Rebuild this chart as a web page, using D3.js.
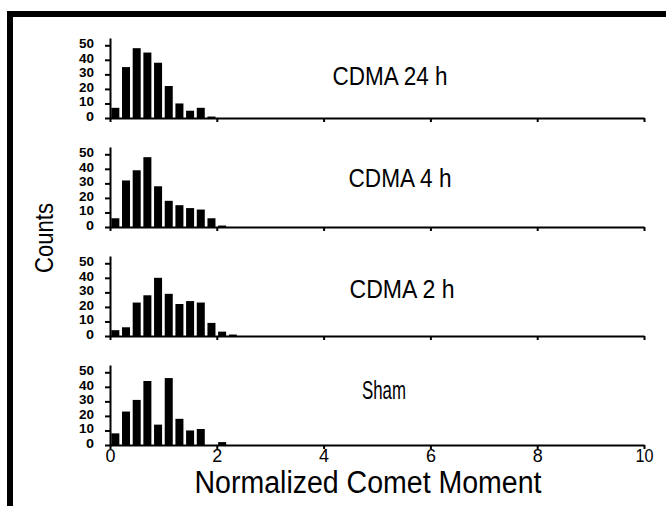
<!DOCTYPE html>
<html>
<head>
<meta charset="utf-8">
<script src="https://cdnjs.cloudflare.com/ajax/libs/d3/7.8.5/d3.min.js"></script>
<style>
  body { margin: 0; background: #fff; }
  svg { display: block; font-family: 'Liberation Sans', Arial, sans-serif; }
  .axis path, .axis line { stroke: #000; stroke-width: 2; }
  .axis text { fill: #000; }
</style>
</head>
<body>
<svg width="666" height="506"></svg>
<script>
// bins of width 0.2 on the normalized comet moment
const binCenters = [0.1, 0.3, 0.5, 0.7, 0.9, 1.1, 1.3, 1.5, 1.7, 1.9, 2.1, 2.3];
const cdma24 = [7, 35, 48, 45, 38, 22, 10, 5, 7, 1, 0, 0];
const cdma4 = [6, 32, 39, 48, 28, 18, 15, 13, 12, 6, 1, 0];
const cdma2 = [4, 6, 23, 28, 40, 29, 22, 24, 23, 9, 3, 1];
const sham = [8, 23, 31, 44, 14, 46, 18, 10, 11, 0, 2, 0];
const panelNames = ['CDMA 24 h', 'CDMA 4 h', 'CDMA 2 h', 'Sham'];
const xTicks = [0, 2, 4, 6, 8, 10];
const yTicks = [0, 10, 20, 30, 40, 50];

const series = [cdma24, cdma4, cdma2, sham];

// layout
const baselines = [118, 227, 336, 445];
const panelHeight = 80;
const titlePos = [[390, 85], [400, 187], [402, 298], [384, 399]];
const titleLen = [115, 103, 105, 44];
const barWidth = 0.15;

const svg = d3.select('svg');

// frame (only top and left edges fall inside the picture)
svg.append('rect')
  .attr('x', 10)
  .attr('y', 14)
  .attr('width', 700)
  .attr('height', 600)
  .attr('fill', 'none')
  .attr('stroke', '#000')
  .attr('stroke-width', 6);

const x = d3.scaleLinear().domain([0, 10]).range([110, 644]);

series.forEach((values, p) => {
  const base = baselines[p];
  const y = d3.scaleLinear().domain([0, 55]).range([base, base - panelHeight]);
  const g = svg.append('g');

  g.selectAll('.bar')
    .data(values.map((v, i) => ({ c: binCenters[i], v })))
    .enter()
    .append('rect')
    .attr('class', 'bar')
    .attr('x', d => x(d.c - barWidth / 2))
    .attr('y', d => y(d.v))
    .attr('width', d => x(d.c + barWidth / 2) - x(d.c - barWidth / 2))
    .attr('height', d => base - y(d.v))
    .attr('fill', '#000');

  const xAxis = g.append('g')
    .attr('class', 'axis')
    .attr('transform', `translate(0, ${base})`)
    .call(d3.axisBottom(x).tickValues(xTicks).tickSize(4).tickSizeOuter(0).tickPadding(-1)
      .tickFormat(p === series.length - 1 ? d3.format('d') : ''));
  xAxis.selectAll('text')
    .attr('font-size', 19)
    .attr('textLength', d => d >= 10 ? 18 : 10)
    .attr('lengthAdjust', 'spacingAndGlyphs');

  const yAxis = g.append('g')
    .attr('class', 'axis')
    .attr('transform', `translate(${x(0)}, 0)`)
    .call(d3.axisLeft(y).tickValues(yTicks).tickSize(5).tickSizeOuter(0).tickPadding(11));
  yAxis.selectAll('text')
    .attr('font-size', 12.5)
    .attr('font-weight', 'bold')
    .attr('dy', '0.2em')
    .attr('textLength', d => d >= 10 ? 15 : 8)
    .attr('lengthAdjust', 'spacingAndGlyphs');

  g.append('text')
    .attr('x', titlePos[p][0])
    .attr('y', titlePos[p][1])
    .attr('text-anchor', 'middle')
    .attr('font-size', 26)
    .attr('textLength', titleLen[p])
    .attr('lengthAdjust', 'spacingAndGlyphs')
    .text(panelNames[p]);
});

svg.append('text')
  .attr('transform', 'translate(53, 238) rotate(-90)')
  .attr('text-anchor', 'middle')
  .attr('font-size', 25)
  .attr('textLength', 70)
  .attr('lengthAdjust', 'spacingAndGlyphs')
  .text('Counts');

svg.append('text')
  .attr('x', 368)
  .attr('y', 493)
  .attr('text-anchor', 'middle')
  .attr('font-size', 31)
  .attr('textLength', 347)
  .attr('lengthAdjust', 'spacingAndGlyphs')
  .text('Normalized Comet Moment');
</script>
</body>
</html>
